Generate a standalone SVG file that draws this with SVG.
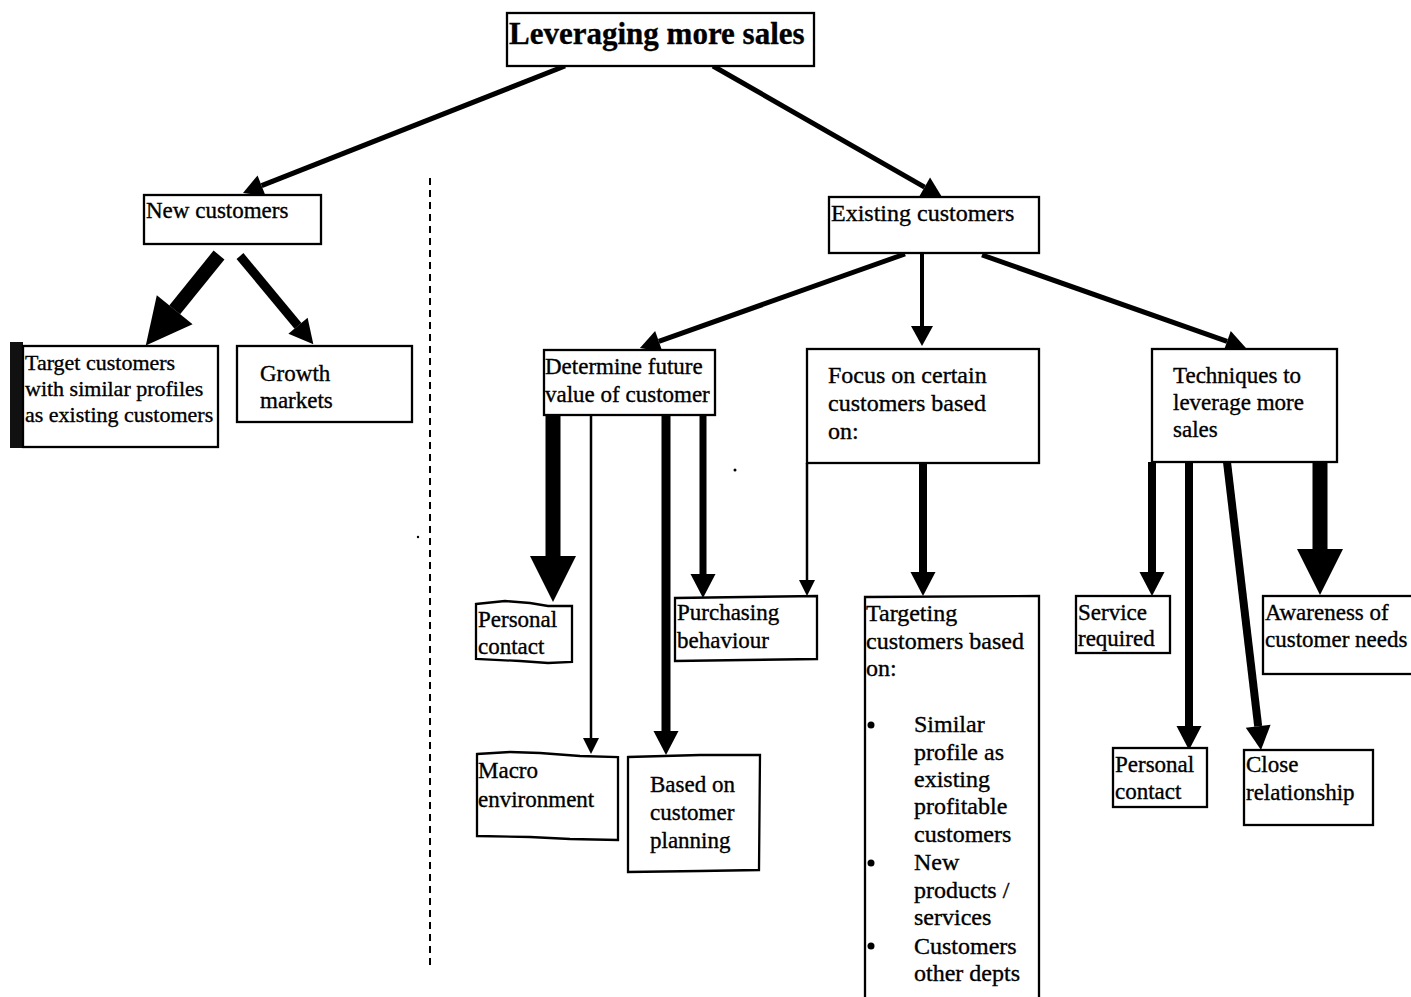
<svg xmlns="http://www.w3.org/2000/svg" width="1411" height="997" viewBox="0 0 1411 997">
  <style>
    .box { fill: #fff; stroke: #000; stroke-width: 2.3; }
    .t { font-family: "Liberation Serif", "Times New Roman", serif; font-size: 23px; fill: #000; stroke: #000; stroke-width: 0.35; }
    .title { font-size: 31px; font-weight: bold; }
    .s22 { font-size: 22px; }
    .s24 { font-size: 24px; }
    .c { stroke: #000; fill: none; stroke-linecap: butt; }
    .divider { stroke: #000; stroke-width: 2; stroke-dasharray: 7 5; }
  </style>
  <defs>
    <!-- arrowheads: drawn from the end of the shaft forward to the tip -->
    <marker id="head-sm" markerUnits="userSpaceOnUse" markerWidth="16" markerHeight="16" refX="0" refY="8" orient="auto" overflow="visible">
      <path d="M0,0 L16,8 L0,16 Z" fill="#000"/>
    </marker>
    <marker id="head-top" markerUnits="userSpaceOnUse" markerWidth="20" markerHeight="22" refX="0" refY="11" orient="auto" overflow="visible">
      <path d="M0,0 L20,11 L0,22 Z" fill="#000"/>
    </marker>
    <marker id="head-md" markerUnits="userSpaceOnUse" markerWidth="24" markerHeight="25" refX="0" refY="12.5" orient="auto" overflow="visible">
      <path d="M0,0 L24,12.5 L0,25 Z" fill="#000"/>
    </marker>
    <marker id="head-lg" markerUnits="userSpaceOnUse" markerWidth="46" markerHeight="46" refX="0" refY="23" orient="auto" overflow="visible">
      <path d="M0,0 L46,23 L0,46 Z" fill="#000"/>
    </marker>
  </defs>

  <rect width="1411" height="997" fill="#fff"/>

  <!-- split between new and existing customers -->
  <line class="divider" x1="430" y1="178" x2="430" y2="970"/>

  <g id="connectors">
    <!-- root -->
    <line class="c" stroke-width="5" x1="565" y1="66" x2="261.6" y2="185.7" marker-end="url(#head-top)"/>
    <line class="c" stroke-width="5" x1="713" y1="66" x2="924.6" y2="187.1" marker-end="url(#head-top)"/>
    <!-- new customers -->
    <line class="c" stroke-width="14" x1="219" y1="255" x2="174.7" y2="309.8" marker-end="url(#head-lg)"/>
    <line class="c" stroke-width="9" x1="240" y1="256" x2="298" y2="325.8" marker-end="url(#head-md)"/>
    <!-- existing customers -->
    <line class="c" stroke-width="5" x1="905" y1="254" x2="658.8" y2="341.3" marker-end="url(#head-top)"/>
    <line class="c" stroke-width="4" x1="922" y1="254" x2="922" y2="326" marker-end="url(#head-top)"/>
    <line class="c" stroke-width="5" x1="982" y1="255" x2="1227.1" y2="341.4" marker-end="url(#head-top)"/>
    <!-- determine future value -->
    <line class="c" stroke-width="15" x1="553" y1="415" x2="553" y2="556" marker-end="url(#head-lg)"/>
    <line class="c" stroke-width="2.5" x1="591" y1="415" x2="591" y2="738" marker-end="url(#head-sm)"/>
    <line class="c" stroke-width="9" x1="666" y1="415" x2="666" y2="731" marker-end="url(#head-md)"/>
    <line class="c" stroke-width="7" x1="703" y1="415" x2="703" y2="574" marker-end="url(#head-md)"/>
    <!-- focus on certain customers -->
    <line class="c" stroke-width="2.5" x1="807" y1="463" x2="807" y2="580" marker-end="url(#head-sm)"/>
    <line class="c" stroke-width="8" x1="923" y1="463" x2="923" y2="572" marker-end="url(#head-md)"/>
    <!-- techniques -->
    <line class="c" stroke-width="8" x1="1152" y1="462" x2="1152" y2="572" marker-end="url(#head-md)"/>
    <line class="c" stroke-width="8" x1="1189" y1="462" x2="1189" y2="726" marker-end="url(#head-md)"/>
    <line class="c" stroke-width="8" x1="1227" y1="462" x2="1258.2" y2="726.2" marker-end="url(#head-md)"/>
    <line class="c" stroke-width="15" x1="1320" y1="462" x2="1320" y2="549" marker-end="url(#head-lg)"/>
  </g>

  <g id="root">
    <rect class="box" x="507" y="13" width="307" height="53"/>
    <text class="t title" x="509" y="44">Leveraging more sales</text>
  </g>

  <g id="new-customers">
    <rect class="box" x="144" y="195" width="177" height="49"/>
    <text class="t" x="146" y="218">New customers</text>
  </g>

  <g id="existing-customers">
    <rect class="box" x="829" y="197" width="210" height="56"/>
    <text class="t s24" x="831" y="221">Existing customers</text>
  </g>

  <g id="target-customers">
    <rect x="10" y="342" width="13" height="106" fill="#111"/>
    <rect class="box" x="23" y="346" width="195" height="101"/>
    <text class="t s22" x="25" y="370">Target customers</text>
    <text class="t s22" x="25" y="396">with similar profiles</text>
    <text class="t s22" x="25" y="422">as existing customers</text>
  </g>

  <g id="growth-markets">
    <rect class="box" x="237" y="346" width="175" height="76"/>
    <text class="t" x="260" y="381">Growth</text>
    <text class="t" x="260" y="408">markets</text>
  </g>

  <g id="determine-value">
    <rect class="box" x="544" y="350" width="171" height="65"/>
    <text class="t" x="545" y="374">Determine future</text>
    <text class="t" x="545" y="402">value of customer</text>
  </g>

  <g id="focus-customers">
    <rect class="box" x="807" y="349" width="232" height="114"/>
    <text class="t s24" x="828" y="383">Focus on certain</text>
    <text class="t s24" x="828" y="411">customers based</text>
    <text class="t s24" x="828" y="439">on:</text>
  </g>

  <g id="techniques">
    <rect class="box" x="1152" y="349" width="185" height="113"/>
    <text class="t" x="1173" y="383">Techniques to</text>
    <text class="t" x="1173" y="410">leverage more</text>
    <text class="t" x="1173" y="437">sales</text>
  </g>

  <g id="personal-contact-value">
    <path class="box" d="M476,604 L505,601 L530,603 L548,606 L572,606 L572,662 L548,663 L520,661 L476,659 Z"/>
    <text class="t" x="478" y="627">Personal</text>
    <text class="t" x="478" y="654">contact</text>
  </g>

  <g id="purchasing-behaviour">
    <path class="box" d="M675,598 L745,597 L817,596 L817,659 L745,660 L675,661 Z"/>
    <text class="t" x="677" y="620">Purchasing</text>
    <text class="t" x="677" y="648">behaviour</text>
  </g>

  <g id="macro-environment">
    <path class="box" d="M477,754 L510,752 L540,753 L580,756 L618,757 L618,840 L570,839 L530,837 L477,836 Z"/>
    <text class="t" x="478" y="778">Macro</text>
    <text class="t" x="478" y="807">environment</text>
  </g>

  <g id="customer-planning">
    <path class="box" d="M628,757 L700,755 L760,755 L759,870 L700,871 L628,872 Z"/>
    <text class="t" x="650" y="792">Based on</text>
    <text class="t" x="650" y="820">customer</text>
    <text class="t" x="650" y="848">planning</text>
  </g>

  <g id="targeting-customers">
    <path class="box" d="M865,597 L1039,596 L1039,1000 L865,1000 Z"/>
    <text class="t s24" x="866" y="621">Targeting</text>
    <text class="t s24" x="866" y="649">customers based</text>
    <text class="t s24" x="866" y="676">on:</text>
    <circle cx="871" cy="725" r="3.5" fill="#000"/>
    <circle cx="871" cy="863" r="3.5" fill="#000"/>
    <circle cx="871" cy="946" r="3.5" fill="#000"/>
    <text class="t s24" x="914" y="732">Similar</text>
    <text class="t s24" x="914" y="760">profile as</text>
    <text class="t s24" x="914" y="787">existing</text>
    <text class="t s24" x="914" y="814">profitable</text>
    <text class="t s24" x="914" y="842">customers</text>
    <text class="t s24" x="914" y="870">New</text>
    <text class="t s24" x="914" y="898">products /</text>
    <text class="t s24" x="914" y="925">services</text>
    <text class="t s24" x="914" y="954">Customers</text>
    <text class="t s24" x="914" y="981">other depts</text>
  </g>

  <g id="service-required">
    <rect class="box" x="1076" y="596" width="94" height="57"/>
    <text class="t" x="1078" y="620">Service</text>
    <text class="t" x="1078" y="646">required</text>
  </g>

  <g id="customer-needs">
    <rect class="box" x="1263" y="596" width="150" height="78"/>
    <text class="t" x="1265" y="620">Awareness of</text>
    <text class="t" x="1265" y="647">customer needs</text>
  </g>

  <g id="personal-contact-technique">
    <rect class="box" x="1113" y="748" width="94" height="59"/>
    <text class="t" x="1115" y="772">Personal</text>
    <text class="t" x="1115" y="799">contact</text>
  </g>

  <g id="close-relationship">
    <rect class="box" x="1244" y="750" width="129" height="75"/>
    <text class="t" x="1246" y="772">Close</text>
    <text class="t" x="1246" y="800">relationship</text>
  </g>

  <!-- stray specks -->
  <circle cx="735" cy="470" r="1.5" fill="#000"/>
  <circle cx="418" cy="537" r="1.2" fill="#000"/>
</svg>
